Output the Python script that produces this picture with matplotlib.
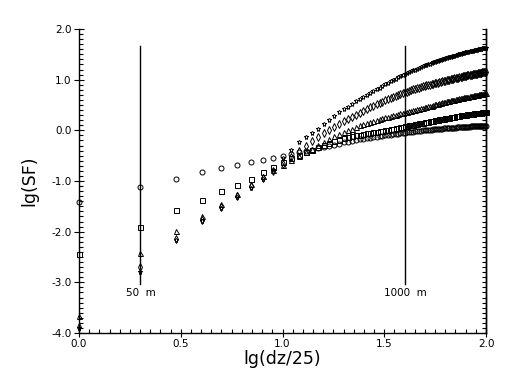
import numpy as np
import matplotlib
matplotlib.use("Agg")
import matplotlib.pyplot as plt
from matplotlib.ticker import MultipleLocator, FormatStrFormatter

# lag index k: dz = 25*k metres, x = lg(dz/25)
k_values = list(range(1, 101))

star_sf = [-3.90, -2.79, -2.17, -1.78, -1.53, -1.31, -1.13, -0.96, -0.78, -0.55,
           -0.38, -0.23, -0.14, -0.05, 0.03, 0.12, 0.21, 0.28, 0.36, 0.42,
           0.47, 0.52, 0.57, 0.61, 0.66, 0.70, 0.73, 0.77, 0.81, 0.84,
           0.88, 0.91, 0.94, 0.97, 1.00, 1.02, 1.05, 1.08, 1.10, 1.12,
           1.14, 1.16, 1.17, 1.19, 1.20, 1.22, 1.24, 1.25, 1.26, 1.28,
           1.29, 1.30, 1.31, 1.32, 1.34, 1.35, 1.36, 1.37, 1.38, 1.39,
           1.40, 1.41, 1.42, 1.43, 1.44, 1.44, 1.45, 1.46, 1.47, 1.47,
           1.48, 1.49, 1.50, 1.50, 1.51, 1.52, 1.52, 1.53, 1.54, 1.54,
           1.55, 1.55, 1.56, 1.56, 1.57, 1.57, 1.58, 1.58, 1.59, 1.59,
           1.60, 1.60, 1.60, 1.61, 1.61, 1.62, 1.62, 1.62, 1.63, 1.63]

diamond_sf = [-3.88, -2.70, -2.15, -1.76, -1.51, -1.29, -1.10, -0.94, -0.81, -0.66,
              -0.52, -0.40, -0.31, -0.22, -0.14, -0.06, 0.01, 0.07, 0.13, 0.19,
              0.23, 0.27, 0.31, 0.35, 0.39, 0.43, 0.46, 0.49, 0.51, 0.54,
              0.56, 0.59, 0.61, 0.63, 0.65, 0.67, 0.69, 0.71, 0.73, 0.75,
              0.76, 0.78, 0.79, 0.81, 0.82, 0.83, 0.84, 0.86, 0.87, 0.88,
              0.89, 0.90, 0.90, 0.91, 0.92, 0.93, 0.94, 0.94, 0.95, 0.96,
              0.97, 0.97, 0.98, 0.99, 0.99, 1.00, 1.01, 1.01, 1.02, 1.03,
              1.03, 1.04, 1.04, 1.05, 1.06, 1.06, 1.07, 1.07, 1.08, 1.08,
              1.09, 1.09, 1.10, 1.10, 1.10, 1.11, 1.11, 1.12, 1.12, 1.12,
              1.13, 1.13, 1.14, 1.14, 1.14, 1.15, 1.15, 1.15, 1.16, 1.16]

triangle_sf = [-3.67, -2.43, -1.99, -1.69, -1.46, -1.25, -1.05, -0.90, -0.78, -0.68,
               -0.58, -0.50, -0.43, -0.36, -0.29, -0.23, -0.17, -0.12, -0.07, -0.03,
               0.00, 0.03, 0.07, 0.10, 0.13, 0.15, 0.17, 0.19, 0.21, 0.22,
               0.24, 0.26, 0.27, 0.28, 0.30, 0.31, 0.32, 0.34, 0.35, 0.36,
               0.37, 0.38, 0.39, 0.40, 0.41, 0.42, 0.43, 0.44, 0.45, 0.46,
               0.47, 0.48, 0.48, 0.49, 0.50, 0.51, 0.52, 0.52, 0.53, 0.54,
               0.55, 0.55, 0.56, 0.57, 0.57, 0.58, 0.59, 0.59, 0.60, 0.60,
               0.61, 0.61, 0.62, 0.63, 0.63, 0.64, 0.64, 0.65, 0.65, 0.65,
               0.66, 0.66, 0.67, 0.67, 0.68, 0.68, 0.69, 0.69, 0.69, 0.70,
               0.70, 0.71, 0.71, 0.71, 0.72, 0.72, 0.72, 0.73, 0.73, 0.73]

square_sf = [-2.44, -1.90, -1.58, -1.37, -1.20, -1.07, -0.96, -0.82, -0.72, -0.63,
             -0.55, -0.48, -0.43, -0.38, -0.33, -0.29, -0.25, -0.22, -0.19, -0.16,
             -0.14, -0.12, -0.10, -0.09, -0.07, -0.06, -0.05, -0.04, -0.03, -0.02,
             -0.01, 0.00, 0.01, 0.02, 0.03, 0.04, 0.05, 0.06, 0.07, 0.08,
             0.09, 0.10, 0.11, 0.11, 0.12, 0.13, 0.14, 0.14, 0.15, 0.16,
             0.17, 0.17, 0.18, 0.19, 0.19, 0.20, 0.20, 0.21, 0.22, 0.22,
             0.23, 0.23, 0.24, 0.24, 0.25, 0.25, 0.26, 0.26, 0.27, 0.27,
             0.28, 0.28, 0.29, 0.29, 0.30, 0.30, 0.30, 0.31, 0.31, 0.31,
             0.32, 0.32, 0.32, 0.33, 0.33, 0.33, 0.34, 0.34, 0.34, 0.34,
             0.35, 0.35, 0.35, 0.35, 0.35, 0.36, 0.36, 0.36, 0.36, 0.36]

circle_sf = [-1.41, -1.12, -0.96, -0.83, -0.75, -0.68, -0.62, -0.58, -0.54, -0.50,
             -0.46, -0.43, -0.40, -0.38, -0.35, -0.33, -0.31, -0.29, -0.27, -0.24,
             -0.23, -0.21, -0.20, -0.18, -0.17, -0.16, -0.15, -0.14, -0.13, -0.12,
             -0.11, -0.10, -0.09, -0.09, -0.08, -0.07, -0.07, -0.06, -0.06, -0.05,
             -0.04, -0.04, -0.03, -0.03, -0.02, -0.02, -0.01, -0.01, 0.00, 0.00,
             0.00, 0.01, 0.01, 0.01, 0.02, 0.02, 0.02, 0.03, 0.03, 0.03,
             0.03, 0.04, 0.04, 0.04, 0.04, 0.05, 0.05, 0.05, 0.05, 0.05,
             0.05, 0.06, 0.06, 0.06, 0.06, 0.06, 0.06, 0.07, 0.07, 0.07,
             0.07, 0.07, 0.07, 0.08, 0.08, 0.08, 0.08, 0.08, 0.08, 0.08,
             0.08, 0.09, 0.09, 0.09, 0.09, 0.09, 0.09, 0.09, 0.09, 0.09]

series = [(star_sf, "*"), (diamond_sf, "d"), (triangle_sf, "^"),
          (square_sf, "s"), (circle_sf, "o")]

marker_lines = [50, 1000]          # metres
marker_labels = ["50  m", "1000  m"]

x = np.log10(np.array(k_values))

fig = plt.figure(figsize=(5.13, 3.90), dpi=100)
ax = fig.add_axes([79/513, 1-333/390, (486-79)/513, (333-29)/390])

for vals, mk in series:
    ax.plot(x, vals, linestyle="none", marker=mk, markersize=3.6,
            markerfacecolor="none", markeredgecolor="black",
            markeredgewidth=0.7, clip_on=False)

for dz, lab in zip(marker_lines, marker_labels):
    xv = np.log10(dz / 25)
    ax.plot([xv, xv], [-3.03, 1.67], color="black", linewidth=1.0)
    ax.text(xv + 0.003, -3.22, lab, ha="center", va="center", fontsize=7.5)

ax.set_xlim(0, 2)
ax.set_ylim(-4, 2)
ax.spines["top"].set_visible(False)
for s in ["left", "bottom", "right"]:
    ax.spines[s].set_linewidth(1.0)

ax.xaxis.set_major_locator(MultipleLocator(0.5))
ax.xaxis.set_minor_locator(MultipleLocator(0.05))
ax.yaxis.set_major_locator(MultipleLocator(1.0))
ax.yaxis.set_minor_locator(MultipleLocator(0.1))
ax.xaxis.set_major_formatter(FormatStrFormatter("%.1f"))
ax.yaxis.set_major_formatter(FormatStrFormatter("%.1f"))

ax.tick_params(axis="x", which="major", direction="inout", length=6, width=0.8,
               labelsize=7.5, pad=1, top=False)
ax.tick_params(axis="x", which="minor", direction="in", length=3, width=0.8, top=False)
ax.tick_params(axis="y", which="major", direction="inout", length=7, width=0.8,
               labelsize=7.5, pad=2, right=False)
ax.tick_params(axis="y", which="minor", direction="in", length=3, width=0.8, right=False)

# right-hand axis: short inward ticks only, no labels
axr = ax.secondary_yaxis("right")
axr.yaxis.set_major_locator(MultipleLocator(0.1))
axr.tick_params(axis="y", which="major", direction="in", length=3, width=0.8,
                labelright=False)
axr.spines["right"].set_linewidth(1.0)

ax.set_xlabel("lg(dz/25)", fontsize=12.5, labelpad=1)
ax.set_ylabel("lg(SF)", fontsize=12.5, labelpad=9)

fig.savefig("out.png", dpi=100)
